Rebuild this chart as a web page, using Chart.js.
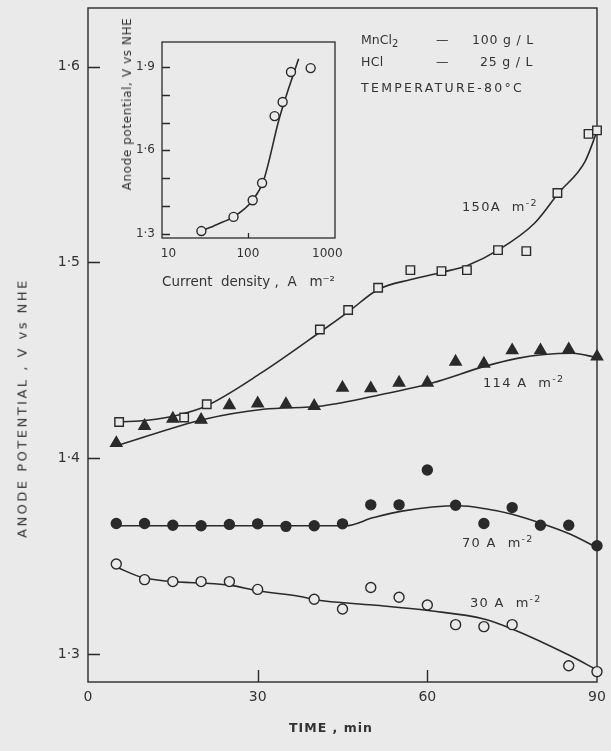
<!DOCTYPE html>
<html><head><meta charset="utf-8">
<script src="https://cdn.jsdelivr.net/npm/chart.js@4.4.0/dist/chart.umd.min.js"></script>
<style>
html,body{margin:0;padding:0;background:#eaeaea;}
#wrap{position:relative;width:611px;height:751px;overflow:hidden;font-family:"DejaVu Sans",sans-serif;color:#333;}
canvas{position:absolute;}
#main{left:0;top:0;width:611px;height:751px;}
#inset{left:100px;top:20px;width:270px;height:285px;}
.lbl{position:absolute;white-space:nowrap;font-size:12.5px;letter-spacing:0.8px;line-height:1;}
.lbl sup{font-size:9.5px;vertical-align:5px;line-height:0;}
.lbl sub{font-size:10px;vertical-align:-3px;line-height:0;}
.cur{font-size:13px;letter-spacing:1.3px;}
</style></head>
<body><div id="wrap">
<canvas id="main" width="611" height="751"></canvas>
<canvas id="inset" width="270" height="285"></canvas>

<div class="lbl" style="left:361px;top:34px;letter-spacing:0">MnCl<sub>2</sub></div>
<div class="lbl" style="left:436px;top:34px">—</div>
<div class="lbl" style="left:472px;top:34px">100 g / L</div>
<div class="lbl" style="left:361px;top:56px;letter-spacing:0.3px">HCl</div>
<div class="lbl" style="left:436px;top:56px">—</div>
<div class="lbl" style="left:480px;top:56px">25 g / L</div>
<div class="lbl" style="left:361px;top:82px;letter-spacing:2.3px">TEMPERATURE-80°C</div>

<div class="lbl cur" style="left:462px;top:200px">150A&nbsp;&nbsp;m<sup>-2</sup></div>
<div class="lbl cur" style="left:483px;top:376px">114 A&nbsp;&nbsp;m<sup>-2</sup></div>
<div class="lbl cur" style="left:462px;top:536px">70 A&nbsp;&nbsp;m<sup>-2</sup></div>
<div class="lbl cur" style="left:470px;top:596px">30 A&nbsp;&nbsp;m<sup>-2</sup></div>

<div class="lbl" style="left:22px;top:408px;transform:translate(-50%,-50%) rotate(-90deg);font-size:13px;letter-spacing:2.5px">ANODE POTENTIAL , V vs NHE</div>
<div class="lbl" style="left:331px;top:728px;transform:translate(-50%,-50%);font-size:12.5px;font-weight:bold;letter-spacing:1px">TIME , min</div>
<div class="lbl" style="left:127px;top:104px;transform:translate(-50%,-50%) rotate(-90deg);font-size:12px;letter-spacing:0.6px">Anode potential, V vs NHE</div>
</div>
<script>
// ---------- main chart data ----------
const xTicks = [0, 30, 60, 90];
const yTicks = [1.3, 1.4, 1.5, 1.6];

// 150 A m^-2 (open squares)
const t150 = [5.5, 17, 21, 41, 46, 51.3, 57, 62.5, 67, 72.5, 77.5, 83, 88.5, 90];
const v150 = [1.4185, 1.4208, 1.4276, 1.4658, 1.4757, 1.4871, 1.4961, 1.4956, 1.4961, 1.5063, 1.5058, 1.5355, 1.5657, 1.5675];
const fitT150 = [5.5, 10.5, 15.8, 20.9, 30.7, 41.3, 46.2, 51.3, 57.1, 62.6, 67.1, 72.5, 78.9, 83.2, 87.9, 90];
const fitV150 = [1.4185, 1.4194, 1.422, 1.4267, 1.4437, 1.465, 1.4752, 1.4862, 1.4913, 1.495, 1.4985, 1.5063, 1.5199, 1.5355, 1.5517, 1.567];

// 114 A m^-2 (filled triangles)
const t114 = [5, 10, 15, 20, 25, 30, 35, 40, 45, 50, 55, 60, 65, 70, 75, 80, 85, 90];
const v114 = [1.4077, 1.4165, 1.4202, 1.4196, 1.427, 1.428, 1.4276, 1.4267, 1.436, 1.4357, 1.4386, 1.4386, 1.4493, 1.4483, 1.4551, 1.4551, 1.4556, 1.4519];
const fitT114 = [5, 20.6, 31, 41.4, 52.1, 61, 70, 75.9, 80.7, 85.7, 90];
const fitV114 = [1.4063, 1.4199, 1.425, 1.4267, 1.4327, 1.4386, 1.4468, 1.451, 1.453, 1.4536, 1.4514];

// 70 A m^-2 (filled circles)
const t70 = [5, 10, 15, 20, 25, 30, 35, 40, 45, 50, 55, 60, 65, 70, 75, 80, 85, 90];
const v70 = [1.3667, 1.3667, 1.3658, 1.3655, 1.3662, 1.3665, 1.3652, 1.3655, 1.3665, 1.3762, 1.3762, 1.394, 1.376, 1.3667, 1.3748, 1.3658, 1.3658, 1.3553];
const fitT70 = [5, 25, 45.5, 50.5, 55.5, 65.5, 70, 75, 80.6, 85.3, 90];
const fitV70 = [1.3655, 1.3655, 1.3655, 1.3697, 1.373, 1.3757, 1.3743, 1.3714, 1.3663, 1.3612, 1.3544];

// 30 A m^-2 (open circles)
const t30 = [5, 10, 15, 20, 25, 30, 40, 45, 50, 55, 60, 65, 70, 75, 85, 90];
const v30 = [1.346, 1.338, 1.337, 1.337, 1.337, 1.333, 1.328, 1.323, 1.334, 1.329, 1.325, 1.315, 1.314, 1.315, 1.294, 1.291];
const fitT30 = [4.7, 10, 25, 30, 37.5, 40.2, 50.4, 60.5, 70, 75, 85.2, 90];
const fitV30 = [1.3448, 1.3388, 1.3352, 1.3323, 1.3294, 1.3277, 1.325, 1.3221, 1.3179, 1.3128, 1.2992, 1.2918];

// ---------- inset data ----------
const insetXTicks = [10, 100, 1000];
const insetYTicks = [1.3, 1.4, 1.5, 1.6, 1.7, 1.8, 1.9];
const insetYLabelled = [1.3, 1.6, 1.9];
const insetCurrent = [26, 66, 115, 151, 217, 274, 349, 617];
const insetPotential = [1.309, 1.36, 1.42, 1.482, 1.723, 1.774, 1.882, 1.896];
const insetFitCurrent = [26, 41, 66, 115, 158, 250, 435];
const insetFitPotential = [1.309, 1.333, 1.36, 1.42, 1.492, 1.717, 1.93];

// ---------- helpers ----------
const INK = '#2a2a2a';
const BG = '#eaeaea';
const pts = (xs, ys) => xs.map((x, i) => ({x: x, y: ys[i]}));
const dotFmt = v => v.toFixed(1).replace('.', '\u00b7');
Chart.defaults.font.family = "'DejaVu Sans', sans-serif";
Chart.defaults.color = '#333';

const framePlugin = {
  id: 'frame',
  beforeDatasetsDraw(chart, args, o) {
    const ctx = chart.ctx, a = chart.chartArea;
    const xs = chart.scales.x, ys = chart.scales.y;
    ctx.save();
    ctx.strokeStyle = INK;
    ctx.lineWidth = o.lw;
    ctx.strokeRect(a.left, a.top, a.right - a.left, a.bottom - a.top);
    ctx.beginPath();
    o.yTicks.forEach(v => {
      const p = Math.round(ys.getPixelForValue(v)) + 0.5;
      ctx.moveTo(a.left, p); ctx.lineTo(a.left + o.len, p);
    });
    o.xTicks.forEach(v => {
      const p = Math.round(xs.getPixelForValue(v)) + 0.5;
      ctx.moveTo(p, a.bottom); ctx.lineTo(p, a.bottom - o.xlen);
    });
    ctx.stroke();
    ctx.restore();
  }
};

const markerSet = (label, xs, ys, style, filled, r) => ({
  label: label, data: pts(xs, ys), showLine: false, order: 0, clip: false,
  pointStyle: style, pointRadius: r, pointHoverRadius: r,
  pointBackgroundColor: filled ? INK : BG, pointBorderColor: INK, pointBorderWidth: 1.4
});
const curveSet = (label, xs, ys) => ({
  label: label, data: pts(xs, ys), showLine: true, order: 1, clip: false,
  borderColor: INK, borderWidth: 1.6, pointRadius: 0, cubicInterpolationMode: 'monotone'
});
const noPad = s => { s.paddingTop = 0; s.paddingBottom = 0; s.paddingLeft = 0; s.paddingRight = 0; };

new Chart(document.getElementById('main'), {
  type: 'scatter',
  data: {
    datasets: [
      markerSet('150 A m-2', t150, v150, 'rect', false, 6),
      markerSet('114 A m-2', t114, v114, 'triangle', true, 6.5),
      markerSet('70 A m-2', t70, v70, 'circle', true, 5),
      markerSet('30 A m-2', t30, v30, 'circle', false, 5),
      curveSet('150 fit', fitT150, fitV150),
      curveSet('114 fit', fitT114, fitV114),
      curveSet('70 fit', fitT70, fitV70),
      curveSet('30 fit', fitT30, fitV30)
    ]
  },
  options: {
    responsive: false, animation: false, devicePixelRatio: 1,
    layout: {padding: {top: 8, right: 14, left: 0, bottom: 0}},
    plugins: {legend: {display: false}, tooltip: {enabled: false},
      frame: {lw: 1.4, len: 12, xlen: 12, yTicks: yTicks, xTicks: [30, 60]}},
    scales: {
      x: {type: 'linear', min: 0, max: 90,
        grid: {display: false, drawTicks: false}, border: {display: false},
        afterBuildTicks: s => { s.ticks = xTicks.map(v => ({value: v})); },
        afterFit: s => { s.height = 69; noPad(s); },
        ticks: {padding: 7, font: {size: 14}, maxRotation: 0, callback: v => String(v)}},
      y: {type: 'linear', min: 1.2857, max: 1.630,
        grid: {display: false, drawTicks: false}, border: {display: false},
        afterBuildTicks: s => { s.ticks = yTicks.map(v => ({value: v})); },
        afterFit: s => { s.width = 88; noPad(s); },
        ticks: {padding: 8, font: {size: 14}, callback: v => dotFmt(v)}}
    }
  },
  plugins: [framePlugin]
});

new Chart(document.getElementById('inset'), {
  type: 'scatter',
  data: {
    datasets: [
      markerSet('steady state', insetCurrent, insetPotential, 'circle', false, 4.5),
      curveSet('fit', insetFitCurrent, insetFitPotential)
    ]
  },
  options: {
    responsive: false, animation: false, devicePixelRatio: 1,
    layout: {padding: {top: 22, right: 35, left: 0, bottom: 0}},
    plugins: {legend: {display: false}, tooltip: {enabled: false},
      frame: {lw: 1.3, len: 8, xlen: 5, yTicks: insetYTicks, xTicks: [100]}},
    scales: {
      x: {type: 'logarithmic', min: 8.3, max: 1250,
        grid: {display: false, drawTicks: false}, border: {display: false},
        afterBuildTicks: s => { s.ticks = insetXTicks.map(v => ({value: v})); },
        afterFit: s => { s.height = 67; noPad(s); },
        ticks: {padding: 9, font: {size: 12}, maxRotation: 0, autoSkip: false, callback: v => String(v)},
        title: {display: true, text: 'Current  density ,  A   m\u207b\u00b2', font: {size: 13.5}, padding: {top: 0, bottom: 14}}},
      y: {type: 'linear', min: 1.284, max: 1.99,
        grid: {display: false, drawTicks: false}, border: {display: false},
        afterBuildTicks: s => { s.ticks = insetYTicks.map(v => ({value: v})); },
        afterFit: s => { s.width = 62; noPad(s); },
        ticks: {padding: 7, font: {size: 12}, autoSkip: false,
          callback: v => insetYLabelled.some(w => Math.abs(w - v) < 1e-6) ? dotFmt(v) : ''}}
    }
  },
  plugins: [framePlugin]
});
</script>
</body></html>
